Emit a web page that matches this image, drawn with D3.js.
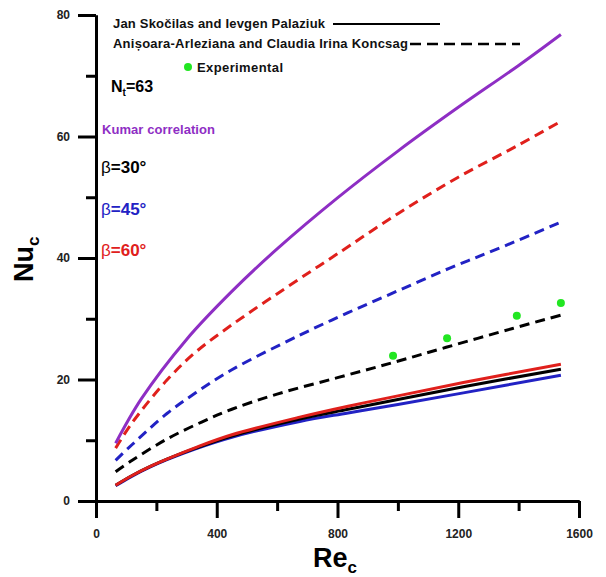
<!DOCTYPE html>
<html>
<head>
<meta charset="utf-8">
<script src="https://cdn.jsdelivr.net/npm/d3@7"></script>
<style>
  body { margin: 0; background: #fff; }
  text { font-family: "Liberation Sans", Arial, sans-serif; }
</style>
</head>
<body>
<div id="chart"></div>
<script>
const W = 606, H = 577;
const margin = { top: 15, right: 27, bottom: 76, left: 96 };

// Values: [Re_c, Nu_c]
const kumar      = [[65,9.5],[150,16.8],[300,26.6],[450,34.5],[600,41.5],[800,49.9],[1000,57.6],[1200,64.8],[1400,71.7],[1540,76.8]];
const dashed60   = [[65,8.7],[120,12.9],[235,19.9],[330,24.5],[450,29.0],[675,36.6],[800,40.7],[1000,47.3],[1200,53.3],[1400,58.6],[1540,62.5]];
const dashed45   = [[65,6.7],[120,9.3],[235,14.4],[330,17.8],[450,21.6],[675,27.3],[835,31],[1000,34.6],[1170,38.3],[1330,41.5],[1540,45.9]];
const dashed30   = [[65,4.8],[120,6.7],[235,10.2],[350,13.0],[450,15.1],[600,17.6],[800,20.3],[985,22.8],[1160,25.3],[1380,28.4],[1540,30.6]];
const solid60    = [[65,2.6],[120,4.2],[180,5.7],[235,6.9],[330,8.8],[450,10.9],[675,13.8],[835,15.6],[1000,17.3],[1217,19.5],[1540,22.5]];
const solid30    = [[65,2.6],[120,4.2],[180,5.7],[235,6.9],[330,8.7],[450,10.7],[675,13.5],[835,15.1],[1000,16.7],[1217,18.8],[1540,21.7]];
const solid45    = [[65,2.5],[120,4.1],[180,5.6],[235,6.8],[330,8.6],[450,10.5],[675,13.1],[835,14.5],[1000,15.9],[1217,17.8],[1540,20.7]];
const experimental = [[984,23.9],[1163,26.8],[1394,30.5],[1540,32.6]];

const xMajor = [0, 400, 800, 1200, 1600];
const xMinor = [200, 600, 1000, 1400];
const yMajor = [0, 20, 40, 60, 80];
const yMinor = [10, 30, 50, 70];

const purple = '#8e2ec4', red = '#e0201c', blue = '#2222c4', green = '#22e622';

const svg = d3.select('#chart').append('svg')
  .attr('width', W).attr('height', H);

const x = d3.scaleLinear().domain([0, 1600]).range([margin.left, W - margin.right]);
const y = d3.scaleLinear().domain([0, 80]).range([H - margin.bottom, margin.top]);

// axes: minor ticks first, then major ones with labels
function styleAxis(g) {
  g.select('.domain').attr('stroke', '#000').attr('stroke-width', 3);
  g.selectAll('.tick line').attr('stroke', '#000').attr('stroke-width', 3);
  g.selectAll('.tick text')
    .attr('fill', '#222')
    .style('font-size', '12px')
    .style('font-weight', 'bold')
    .style('font-family', '"Liberation Sans", Arial, sans-serif');
}

svg.append('g')
  .attr('transform', `translate(0,${y(0)})`)
  .call(d3.axisBottom(x).tickValues(xMinor).tickSize(10).tickFormat('').tickSizeOuter(0))
  .call(styleAxis);
svg.append('g')
  .attr('transform', `translate(0,${y(0)})`)
  .call(d3.axisBottom(x).tickValues(xMajor).tickSize(17).tickPadding(11).tickFormat(d3.format('d')).tickSizeOuter(0))
  .call(styleAxis);

svg.append('g')
  .attr('transform', `translate(${x(0)},0)`)
  .call(d3.axisLeft(y).tickValues(yMinor).tickSize(10).tickFormat('').tickSizeOuter(0))
  .call(styleAxis);
svg.append('g')
  .attr('transform', `translate(${x(0)},0)`)
  .call(d3.axisLeft(y).tickValues(yMajor).tickSize(18).tickPadding(8).tickFormat(d3.format('d')).tickSizeOuter(0))
  .call(styleAxis);

// curves
const line = d3.line()
  .x(d => x(d[0]))
  .y(d => y(d[1]))
  .curve(d3.curveCatmullRom.alpha(0.5));

const series = [
  { data: solid45, color: blue, dash: null },
  { data: solid30, color: '#000', dash: null },
  { data: solid60, color: red, dash: null },
  { data: dashed30, color: '#000', dash: '10,6' },
  { data: dashed45, color: blue, dash: '10,6' },
  { data: dashed60, color: red, dash: '10,6' },
  { data: kumar, color: purple, dash: null }
];

svg.selectAll('.curve')
  .data(series)
  .join('path')
  .attr('class', 'curve')
  .attr('d', d => line(d.data))
  .attr('fill', 'none')
  .attr('stroke', d => d.color)
  .attr('stroke-width', 3)
  .attr('stroke-dasharray', d => d.dash);

svg.selectAll('.exp')
  .data(experimental)
  .join('circle')
  .attr('class', 'exp')
  .attr('cx', d => x(d[0]))
  .attr('cy', d => y(d[1]))
  .attr('r', 4)
  .attr('fill', green);

// axis titles
const xt = svg.append('text')
  .attr('x', 313).attr('y', 567)
  .style('font-size', '27px').style('font-weight', 'bold');
xt.append('tspan').text('Re');
xt.append('tspan').attr('dy', 6).style('font-size', '17px').text('c');

const yt = svg.append('text')
  .attr('transform', 'translate(33,282) rotate(-90)')
  .style('font-size', '27px').style('font-weight', 'bold');
yt.append('tspan').text('Nu');
yt.append('tspan').attr('dy', 6).style('font-size', '17px').text('c');

// legend
const legend = svg.append('g');
legend.append('text')
  .attr('x', 113).attr('y', 28)
  .attr('textLength', 212)
  .style('font-size', '13px').style('font-weight', 'bold').attr('fill', '#111')
  .text('Jan Skočilas and Ievgen Palaziuk');
legend.append('line')
  .attr('x1', 333).attr('x2', 440).attr('y1', 24).attr('y2', 24)
  .attr('stroke', '#000').attr('stroke-width', 2);

legend.append('text')
  .attr('x', 113).attr('y', 48)
  .attr('textLength', 295)
  .style('font-size', '13px').style('font-weight', 'bold').attr('fill', '#111')
  .text('Anișoara-Arleziana and Claudia Irina Koncsag');
legend.append('line')
  .attr('x1', 410).attr('x2', 520).attr('y1', 44).attr('y2', 44)
  .attr('stroke', '#000').attr('stroke-width', 2.5)
  .attr('stroke-dasharray', '11,6');

legend.append('circle')
  .attr('cx', 188).attr('cy', 67).attr('r', 4).attr('fill', green);
legend.append('text')
  .attr('x', 197).attr('y', 72)
  .attr('textLength', 86)
  .style('font-size', '13px').style('font-weight', 'bold').attr('fill', '#111')
  .text('Experimental');

const nt = svg.append('text')
  .attr('x', 111).attr('y', 92)
  .style('font-size', '16px').style('font-weight', 'bold');
nt.append('tspan').text('N');
nt.append('tspan').attr('dy', 4).style('font-size', '10px').text('t');
nt.append('tspan').attr('dy', -4).text('=63');

svg.append('text')
  .attr('x', 102).attr('y', 134)
  .attr('textLength', 113)
  .style('font-size', '13px').style('font-weight', 'bold').attr('fill', purple)
  .text('Kumar correlation');

const betas = [
  { label: '=30°', color: '#000', yPos: 173 },
  { label: '=45°', color: blue, yPos: 215 },
  { label: '=60°', color: red, yPos: 256 }
];
betas.forEach(b => {
  const t = svg.append('text')
    .attr('x', 101).attr('y', b.yPos)
    .attr('fill', b.color)
    .style('font-size', '17px');
  t.append('tspan').text('β');
  t.append('tspan').style('font-weight', 'bold').text(b.label);
});
</script>
</body>
</html>
